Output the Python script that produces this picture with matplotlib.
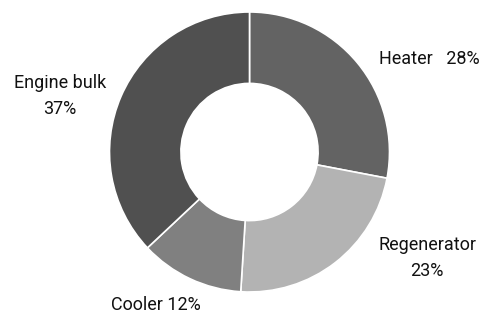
import matplotlib
matplotlib.use("Agg")
import matplotlib.pyplot as plt

labels = ["Heater", "Regenerator", "Cooler", "Engine bulk"]
values = [28, 23, 12, 37]
colors = ["#636363", "#b3b3b3", "#808080", "#505050"]
label_texts = ["Heater   28%", "Regenerator\n23%", "Cooler 12%", "Engine bulk\n37%"]
label_pos = [(429, 256), (427, 57), (156, 10), (60, 219)]

W, H = 483, 315
fig = plt.figure(figsize=(W / 100, H / 100), dpi=100)
ax = fig.add_axes([0, 0, 1, 1])

ax.pie(values, colors=colors, startangle=90, counterclock=False,
       center=(249.5, 163), radius=140,
       wedgeprops=dict(width=140 * 0.51, edgecolor="white", linewidth=1.2))

ax.set_xlim(0, W)
ax.set_ylim(0, H)
ax.set_aspect("equal")
ax.axis("off")

for t, (x, y) in zip(label_texts, label_pos):
    ax.text(x, y, t, ha="center", va="center", fontsize=13,
            family=["Roboto", "DejaVu Sans"],
            color="#111111", linespacing=1.55)

fig.savefig("out.png", dpi=100)
